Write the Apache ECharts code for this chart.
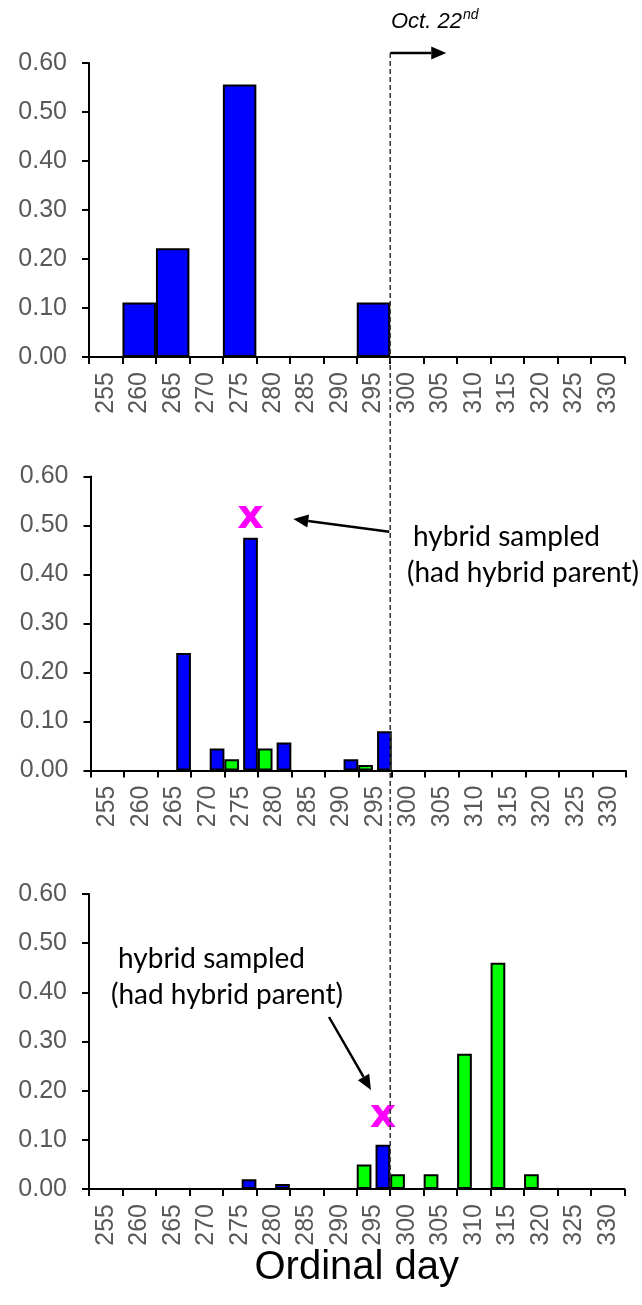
<!DOCTYPE html>
<html>
<head>
<meta charset="utf-8">
<script src="https://cdn.jsdelivr.net/npm/echarts@6/dist/echarts.min.js"></script>
<style>
  html, body { margin: 0; padding: 0; background: #fff; }
  #chart { width: 642px; height: 1305px; }
</style>
</head>
<body>
<div id="chart"></div>
<script>
// Ordinal-day bins (5-day bins)
const days = ['255','260','265','270','275','280','285','290','295','300','305','310','315','320','325','330'];

// Proportion of individuals per bin
const topBlue   = [0, 0.111, 0.222, 0, 0.556, 0, 0, 0, 0.111, 0, 0, 0, 0, 0, 0, 0];
const midGreen  = [0, 0, 0, 0, 0.023, 0.045, 0, 0, 0.011, 0, 0, 0, 0, 0, 0, 0];
const midBlue   = [0, 0, 0.24, 0.045, 0.475, 0.057, 0, 0.023, 0.08, 0, 0, 0, 0, 0, 0, 0];
const botGreen  = [0, 0, 0, 0, 0, 0, 0, 0, 0.05, 0.03, 0.03, 0.275, 0.46, 0.03, 0, 0];
const botBlue   = [0, 0, 0, 0, 0.02, 0.01, 0, 0, 0.09, 0, 0, 0, 0, 0, 0, 0];

// Bins where a hybrid (with a hybrid parent) was sampled
const hybridDayMid = '275';
const hybridDayBot = '295';

// Cut-off date: end of the day-295 bin
const cutoffDay = '295';
const cutoffLabel = 'Oct. 22';
const cutoffSup = 'nd';

const noteLine1 = 'hybrid sampled';
const noteLine2 = '(had hybrid parent)';
const xTitle = 'Ordinal day';

const BLUE = '#0000FF';
const GREEN = '#00FF00';
const TICK_FONT = 'Liberation Sans';
const NOTE_FONT = 'Lato';

const grids = [
  { left: 89,   top: 63,    width: 535.5, height: 294 },
  { left: 90.5, top: 476.5, width: 535.5, height: 294 },
  { left: 89,   top: 894,   width: 535.5, height: 295 }
];

function xAxisFor(i) {
  return {
    type: 'category', gridIndex: i, data: days,
    axisLine: { lineStyle: { color: '#000', width: 2 } },
    axisTick: { show: true, interval: 0, length: 7, lineStyle: { color: '#000', width: 2 } },
    axisLabel: { interval: 0, rotate: 90, margin: 15, fontSize: 25, color: '#595959', fontFamily: TICK_FONT },
    splitLine: { show: false }
  };
}
function yAxisFor(i) {
  return {
    type: 'value', gridIndex: i, min: 0, max: 0.6, interval: 0.1,
    axisLine: { show: true, lineStyle: { color: '#000', width: 2 } },
    axisTick: { show: true, length: 7, lineStyle: { color: '#000', width: 2 } },
    axisLabel: { margin: 22, fontSize: 25, color: '#595959', fontFamily: TICK_FONT,
                 formatter: v => v.toFixed(2) },
    splitLine: { show: false }
  };
}

const barStyle = c => ({ color: c, borderColor: '#000', borderWidth: 2 });

// zero bins are left empty; the hybrid bin carries the magenta "x"
function barData(values, hybridDay, dist) {
  return values.map((v, i) => {
    if (!v) return '-';
    if (hybridDay && days[i] === hybridDay) {
      return {
        value: v,
        label: { show: true, position: 'top', distance: dist, formatter: 'x',
                 color: '#FF00FF', fontSize: 41, fontWeight: 'bold', lineHeight: 44,
                 fontFamily: 'DejaVu Sans' }
      };
    }
    return v;
  });
}

const pairBar = { barWidth: 14.7, barGap: '28%' };

const option = {
  animation: false,
  backgroundColor: '#fff',
  grid: grids,
  xAxis: [xAxisFor(0), xAxisFor(1), xAxisFor(2)],
  yAxis: [yAxisFor(0), yAxisFor(1), yAxisFor(2)],
  series: [
    { type: 'bar', xAxisIndex: 0, yAxisIndex: 0, data: barData(topBlue),
      barCategoryGap: '0%', itemStyle: barStyle(BLUE) },
    Object.assign({ type: 'bar', xAxisIndex: 1, yAxisIndex: 1, data: barData(midGreen),
      itemStyle: barStyle(GREEN) }, pairBar),
    Object.assign({ type: 'bar', xAxisIndex: 1, yAxisIndex: 1, data: barData(midBlue, hybridDayMid, -2),
      itemStyle: barStyle(BLUE) }, pairBar),
    Object.assign({ type: 'bar', xAxisIndex: 2, yAxisIndex: 2, data: barData(botGreen),
      itemStyle: barStyle(GREEN) }, pairBar),
    Object.assign({ type: 'bar', xAxisIndex: 2, yAxisIndex: 2, data: barData(botBlue, hybridDayBot, 6),
      itemStyle: barStyle(BLUE) }, pairBar)
  ]
};

const chart = echarts.init(document.getElementById('chart'), null, { renderer: 'canvas' });
chart.setOption(option);

// ---- annotations ----
function arrow(x1, y1, x2, y2, headLen, headW, lw) {
  const dx = x2 - x1, dy = y2 - y1, len = Math.hypot(dx, dy);
  const ux = dx / len, uy = dy / len;
  const bx = x2 - ux * headLen, by = y2 - uy * headLen;
  const px = -uy * headW / 2, py = ux * headW / 2;
  return [
    { type: 'line', shape: { x1, y1, x2: bx, y2: by }, style: { stroke: '#000', lineWidth: lw } },
    { type: 'polygon', shape: { points: [[x2, y2], [bx + px, by + py], [bx - px, by - py]] },
      style: { fill: '#000' } }
  ];
}

const measure = (() => {
  const ctx = document.createElement('canvas').getContext('2d');
  return (txt, font) => { ctx.font = font; return ctx.measureText(txt).width; };
})();

const iCut = days.indexOf(cutoffDay);
const cx0 = chart.convertToPixel({ xAxisIndex: 0 }, iCut);
const cx1 = chart.convertToPixel({ xAxisIndex: 0 }, iCut + 1);
const cutX = (cx0 + cx1) / 2;
const bottomY = chart.convertToPixel({ yAxisIndex: 2 }, 0);
const arrowY = 53;

const octFont = 'italic 22px "Liberation Sans"';
const octW = measure(cutoffLabel, octFont);
const noteFont = '28px "' + NOTE_FONT + '"';

const elements = [
  { type: 'line', shape: { x1: cutX, y1: arrowY, x2: cutX, y2: bottomY },
    style: { stroke: '#333', lineWidth: 1.5, lineDash: [5, 3] }, z: 50 },
  ...arrow(cutX, arrowY, cutX + 56, arrowY, 15, 13, 2.5),
  { type: 'text', x: 391, y: 22,
    style: { text: cutoffLabel, font: octFont, fill: '#000', verticalAlign: 'middle', align: 'left' } },
  { type: 'text', x: 391 + octW + 1, y: 15,
    style: { text: cutoffSup, font: 'italic 14px "Liberation Sans"', fill: '#000', verticalAlign: 'middle', align: 'left' } },

  // middle panel note
  ...arrow(389.3, 531.7, 293.3, 519, 15, 13, 2.5),
  { type: 'text', x: 413, y: 537,
    style: { text: noteLine1, font: noteFont, fill: '#000', verticalAlign: 'middle' } },
  { type: 'text', x: 407, y: 573,
    style: { text: noteLine2, font: noteFont, fill: '#000', verticalAlign: 'middle' } },

  // bottom panel note
  ...arrow(329, 1017, 371, 1090, 15, 13, 2.5),
  { type: 'text', x: 118, y: 959,
    style: { text: noteLine1, font: noteFont, fill: '#000', verticalAlign: 'middle' } },
  { type: 'text', x: 111, y: 995,
    style: { text: noteLine2, font: noteFont, fill: '#000', verticalAlign: 'middle' } },

  // x-axis title
  { type: 'text', x: grids[2].left + grids[2].width / 2, y: 1268,
    style: { text: xTitle, font: '40px "Liberation Sans"', fill: '#000', align: 'center', verticalAlign: 'middle' } }
];

chart.setOption({ graphic: { elements } });
</script>
</body>
</html>
